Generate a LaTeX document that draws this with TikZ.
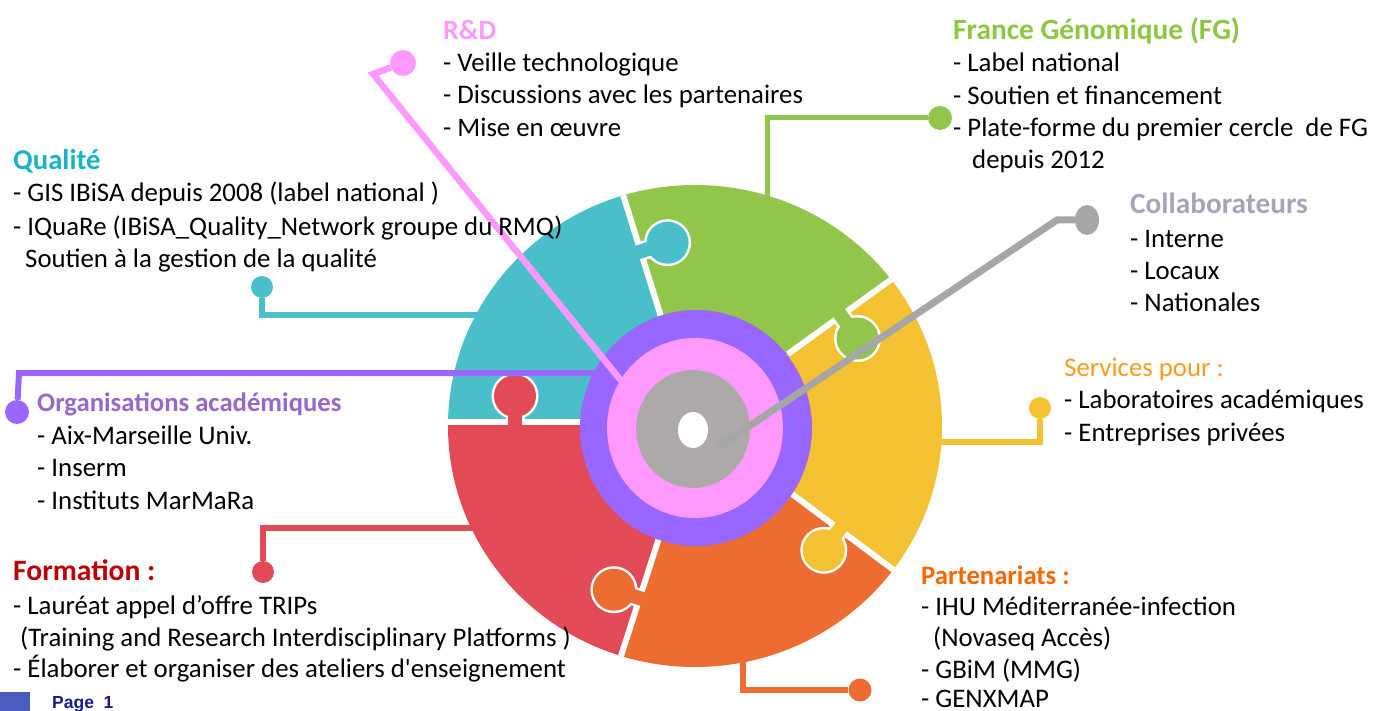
\documentclass[tikz,border=0pt]{standalone}
\usepackage{fontspec}
\setmainfont{Carlito}[Ligatures=TeXOff]
\newfontfamily\pagefont{Liberation Sans}
\usetikzlibrary{calc,shapes.geometric}
\definecolor{cteal}{HTML}{4BBFC9}
\definecolor{cgreen}{HTML}{92C64B}
\definecolor{cyellow}{HTML}{F4C133}
\definecolor{corange}{HTML}{EC6C32}
\definecolor{cred}{HTML}{E34A58}
\definecolor{cpurple}{HTML}{9966FF}
\definecolor{cpink}{HTML}{FF99FF}
\definecolor{ccore}{HTML}{ADA9A8}
\definecolor{cline}{HTML}{A6A6A6}
\definecolor{hrd}{HTML}{FF99FF}
\definecolor{hfg}{HTML}{8DC641}
\definecolor{hq}{HTML}{17B3C6}
\definecolor{hco}{HTML}{A5A5BA}
\definecolor{hsv}{HTML}{FF9A1A}
\definecolor{hor}{HTML}{9966CC}
\definecolor{hfo}{HTML}{C00000}
\definecolor{hpa}{HTML}{FF6600}
\definecolor{pageblue}{HTML}{4A5DBF}
\definecolor{pagenavy}{HTML}{1A1A8C}
\tikzset{
  body/.style={anchor=base west, inner sep=0pt, font=\fontsize{26.8}{32}\selectfont},
  head/.style={anchor=base west, inner sep=0pt, font=\fontsize{#1}{32}\selectfont\bfseries},
  dotnode/.style={circle, inner sep=0pt, minimum size=#1},
  conn/.style={line width=#1, line join=miter},
  gap/.style={white, line width=6pt},
}
\newcommand\puzzletab[3]{%
  \draw[white, line width=19pt] (#1) -- (#2);
  \fill[white] (#2) circle[radius=23.5pt];
  \draw[#3, line width=14pt] ($(#1)!-6pt!(#2)$) -- (#2);
  \fill[#3] (#2) circle[radius=21pt];
}
\begin{document}
\begin{tikzpicture}[x=1pt,y=-1pt]
\useasboundingbox (0,0) rectangle (1384,711);

% ---------- connectors under the puzzle ----------
\node[dotnode=22pt, fill=cteal] (dq) at (262,287) {};
\coordinate (q1) at (262,315); \coordinate (q2) at (485,315);
\draw[conn=5.5pt, cteal] (dq) -- (q1) -- (q2);

\node[dotnode=22pt, fill=cred] (df) at (263,572) {};
\coordinate (f1c) at (263,528); \coordinate (f2c) at (495,528);
\draw[conn=6pt, cred] (df) -- (f1c) -- (f2c);

\node[dotnode=24pt, fill=cgreen] (dg) at (940,118) {};
\coordinate (g1) at (767,118); \coordinate (g2) at (767,205);
\draw[conn=5pt, cgreen] (dg) -- (g1) -- (g2);

\node[dotnode=22pt, fill=cyellow] (dy) at (1040,408) {};
\coordinate (y1) at (1040,442); \coordinate (y2) at (925,442);
\draw[conn=6pt, cyellow] (dy) -- (y1) -- (y2);

\node[dotnode=23pt, fill=corange] (do) at (860,690) {};
\coordinate (o1c) at (743,690); \coordinate (o2c) at (743,650);
\draw[conn=6pt, corange] (do) -- (o1c) -- (o2c);

% ---------- puzzle ----------
\coordinate (Ctr) at (695,426);
\coordinate (I1) at (663,313); \coordinate (F1) at (573,34);
\coordinate (I2) at (788,354); \coordinate (F2) at (1055,161);
\coordinate (I3) at (792,494); \coordinate (F3) at (1042,681);
\coordinate (I4) at (660,539); \coordinate (F4) at (584,771);
\coordinate (I5) at (582,422); \coordinate (F5) at (380,422);
\begin{scope}
  \clip (695,426) ellipse [x radius=247pt, y radius=241pt];
  \fill[cteal] (Ctr) -- (I1) -- (F1) -- (380,34) -- (F5) -- (I5) -- cycle;
  \fill[cgreen] (Ctr) -- (I1) -- (F1) -- (1100,34) -- (F2) -- (I2) -- cycle;
  \fill[cyellow] (Ctr) -- (I2) -- (F2) -- (F3) -- (I3) -- cycle;
  \fill[corange] (Ctr) -- (I3) -- (F3) -- (1042,771) -- (F4) -- (I4) -- cycle;
  \fill[cred] (Ctr) -- (I4) -- (F4) -- (380,771) -- (F5) -- (I5) -- cycle;
  \draw[gap] (Ctr) -- (F1);
  \draw[gap] (I2) -- (F2);
  \draw[gap] (I3) -- (F3);
  \draw[gap] (Ctr) -- (F4);
  \draw[gap] (I5) -- (F5);
  \puzzletab{642.9,250.7}{667.6,242.7}{cteal}
  \puzzletab{841.1,315.8}{857.5,338.5}{cgreen}
  \puzzletab{839.4,529.5}{823.8,550.3}{cyellow}
  \puzzletab{640.5,598.4}{613.9,589.7}{corange}
  \puzzletab{515,422}{515,396}{cred}
\end{scope}

% ---------- purple connector ----------
\node[dotnode=24pt, fill=cpurple] (dor) at (17,412) {};
\coordinate (r1) at (19,373); \coordinate (r2) at (610,373);
\draw[conn=6pt, cpurple] (dor) -- (r1) -- (r2);

% ---------- rings ----------
\fill[cpurple] (696,428) ellipse [x radius=116pt, y radius=118pt];
\fill[cpink] (695,428) ellipse [x radius=88pt, y radius=90pt];
\fill[ccore] (693,429) ellipse [x radius=57pt, y radius=59pt];
\fill[white] (693,430) ellipse [x radius=15pt, y radius=18pt];

% ---------- pink connector ----------
\node[dotnode=26pt, fill=cpink] (drd) at (403,63) {};
\coordinate (k1) at (373,74); \coordinate (k2) at (627,388);
\draw[conn=6.5pt, cpink] (drd) -- (k1) -- (k2);

% ---------- gray connector ----------
\node[ellipse, inner sep=0pt, minimum width=24pt, minimum height=30pt, fill=cline] (dco) at (1087,220) {};
\coordinate (m1) at (1057,220); \coordinate (m2) at (718,447);
\draw[conn=7pt, cline] (dco) -- (m1) -- (m2);

% ---------- texts ----------
\node[head=28, text=hrd] (rdh) at (443,40) {R\&D};
\node[body] (rd1) at (443,72) {- Veille technologique};
\node[body] (rd2) at (443,104) {- Discussions avec les partenaires};
\node[body] (rd3) at (443,137) {- Mise en œuvre};

\node[head=29.4, text=hfg] (fgh) at (953,40) {France Génomique (FG)};
\node[body] (fg1) at (953,72) {- Label national};
\node[body] (fg2) at (953,105) {- Soutien et financement};
\node[body] (fg3) at (953,137) {- Plate-forme du premier cercle\ \ de FG};
\node[body] (fg4) at (972,169) {depuis 2012};

\node[head=28.7, text=hq] (qh) at (13,170) {Qualité};
\node[body] (q1t) at (13,202) {- GIS IBiSA depuis 2008 (label national )};
\node[body] (q2t) at (13,236) {- IQuaRe (IBiSA\_Quality\_Network groupe du RMQ)};
\node[body] (q3t) at (25,268) {Soutien à la gestion de la qualité};

\node[head=29.3, text=hco] (ch) at (1130,214) {Collaborateurs};
\node[body] (c1) at (1130,248) {- Interne};
\node[body] (c2) at (1130,280) {- Locaux};
\node[body] (c3) at (1130,312) {- Nationales};

\node[body, text=hsv] (sh) at (1064,376) {Services pour :};
\node[body] (s1) at (1064,408) {- Laboratoires académiques};
\node[body] (s2) at (1064,441) {- Entreprises privées};

\node[head=26.7, text=hor] (oh) at (37,411) {Organisations académiques};
\node[body] (ot1) at (37,444) {- Aix-Marseille Univ.};
\node[body] (ot2) at (37,476) {- Inserm};
\node[body] (ot3) at (37,509) {- Instituts MarMaRa};

\node[head=29.6, text=hfo] (fh) at (13,580) {Formation :};
\node[body] (ft1) at (13,614) {- Lauréat appel d’offre TRIPs};
\node[body] (ft2) at (20,646) {(Training and Research Interdisciplinary Platforms )};
\node[body] (ft3) at (13,677) {- Élaborer et organiser des ateliers d'enseignement};

\node[head=26.7, text=hpa] (ph) at (921,584) {Partenariats :};
\node[body] (pt1) at (921,615) {- IHU Méditerranée-infection};
\node[body] (pt2) at (933,646) {(Novaseq Accès)};
\node[body] (pt3) at (921,678) {- GBiM (MMG)};
\node[body] (pt4) at (921,707) {- GENXMAP};

% ---------- page footer ----------
\fill[pageblue] (0,692) rectangle (30,711);
\node[anchor=base west, inner sep=0pt, text=pagenavy, font=\pagefont\bfseries\fontsize{17.5}{20}\selectfont] (pg) at (52,708) {Page\ \ 1};
\end{tikzpicture}
\end{document}
